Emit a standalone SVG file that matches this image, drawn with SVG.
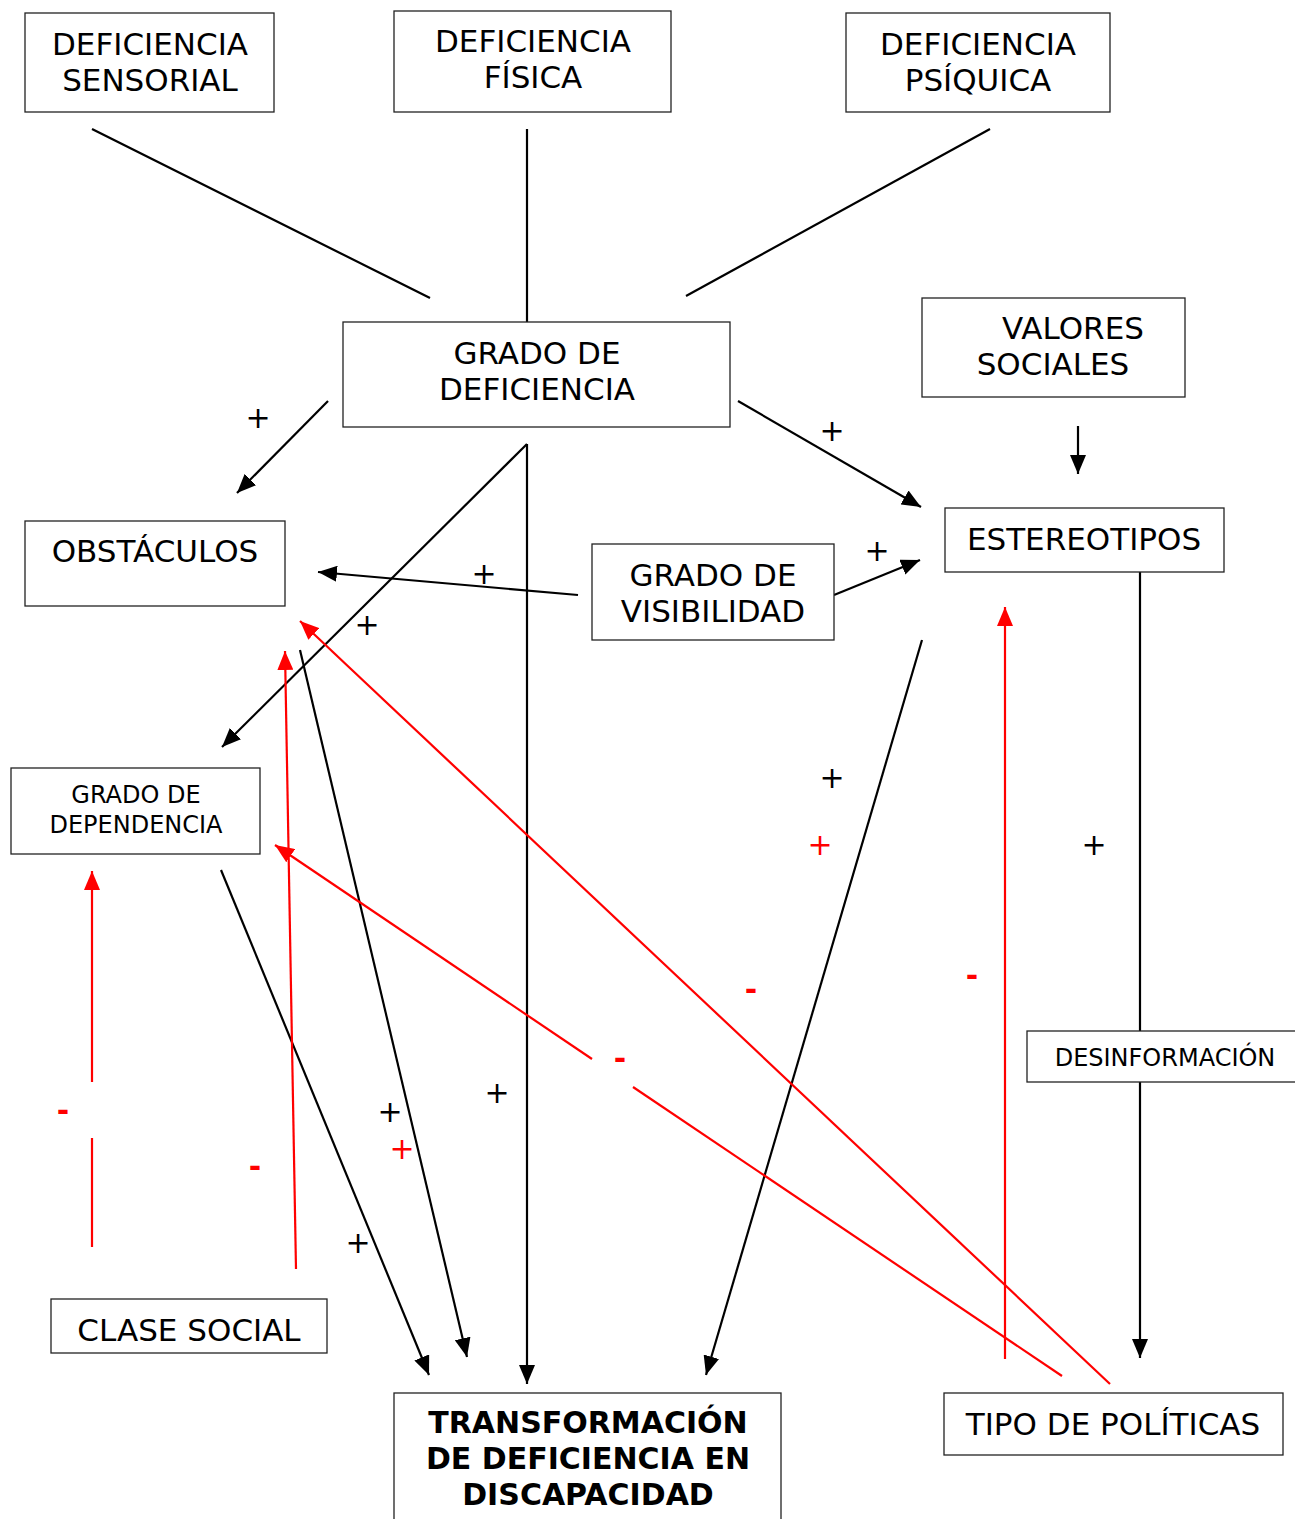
<svg xmlns="http://www.w3.org/2000/svg" width="1295" height="1519" viewBox="0 0 1295 1519">
<style>
.box{fill:#fff;stroke:#222;stroke-width:1.3}
.t{font-family:"DejaVu Sans","Verdana",sans-serif;font-size:31px;fill:#000;text-anchor:middle}
.ts{font-size:24px}
.tb{font-weight:bold;font-size:30px}
.k{stroke:#000;stroke-width:2.2;fill:none}
.r{stroke:#f00;stroke-width:2.2;fill:none}
.sg{font-family:"DejaVu Sans","Verdana",sans-serif;font-size:30px;text-anchor:middle;fill:#000}
.sm{font-family:"DejaVu Sans","Verdana",sans-serif;font-size:30px;font-weight:bold;text-anchor:middle;fill:#f00}
.sr{fill:#f00}
</style>
<defs>
<marker id="ak" markerUnits="userSpaceOnUse" markerWidth="20" markerHeight="16" refX="19" refY="8" orient="auto"><path d="M0,0 L19,8 L0,16 z" fill="#000"/></marker>
<marker id="ar" markerUnits="userSpaceOnUse" markerWidth="20" markerHeight="16" refX="19" refY="8" orient="auto"><path d="M0,0 L19,8 L0,16 z" fill="#f00"/></marker>
</defs>
<rect width="1295" height="1519" fill="#fff"/>
<g id="connectors">
<line class="k" x1="92" y1="129" x2="430" y2="298"/>
<line class="k" x1="527" y1="129" x2="527" y2="322"/>
<line class="k" x1="990" y1="129" x2="686" y2="296"/>
<line class="k" x1="328" y1="401" x2="237" y2="493" marker-end="url(#ak)"/>
<line class="k" x1="738" y1="401" x2="921" y2="507" marker-end="url(#ak)"/>
<line class="k" x1="1078" y1="426" x2="1078" y2="474" marker-end="url(#ak)"/>
<line class="k" x1="578" y1="595" x2="318" y2="572" marker-end="url(#ak)"/>
<line class="k" x1="834" y1="595" x2="920" y2="560" marker-end="url(#ak)"/>
<line class="k" x1="527" y1="444" x2="527" y2="1384" marker-end="url(#ak)"/>
<line class="k" x1="527" y1="444" x2="222" y2="747" marker-end="url(#ak)"/>
<line class="k" x1="221" y1="870" x2="429" y2="1375" marker-end="url(#ak)"/>
<line class="k" x1="300" y1="650" x2="467" y2="1357" marker-end="url(#ak)"/>
<line class="k" x1="922" y1="640" x2="706" y2="1375" marker-end="url(#ak)"/>
<line class="k" x1="1140" y1="572" x2="1140" y2="1358" marker-end="url(#ak)"/>
<line class="r" x1="92" y1="1247" x2="92" y2="1138"/>
<line class="r" x1="92" y1="1082" x2="92" y2="871" marker-end="url(#ar)"/>
<line class="r" x1="296" y1="1269" x2="285" y2="651" marker-end="url(#ar)"/>
<line class="r" x1="1110" y1="1384" x2="300" y2="621" marker-end="url(#ar)"/>
<line class="r" x1="1062" y1="1376" x2="633" y2="1087"/>
<line class="r" x1="592" y1="1059" x2="275" y2="845" marker-end="url(#ar)"/>
<line class="r" x1="1005" y1="1359" x2="1005" y2="607" marker-end="url(#ar)"/>
</g>
<g id="signs">
<text class="sg" x="258" y="428">+</text>
<text class="sg" x="832" y="441">+</text>
<text class="sg" x="877" y="561">+</text>
<text class="sg" x="484" y="584">+</text>
<text class="sg" x="367" y="635">+</text>
<text class="sg" x="832" y="788">+</text>
<text class="sg sr" x="820" y="855">+</text>
<text class="sg" x="1094" y="855">+</text>
<text class="sg" x="497" y="1103">+</text>
<text class="sg" x="390" y="1122">+</text>
<text class="sg sr" x="402" y="1159">+</text>
<text class="sg" x="358" y="1253">+</text>
<text class="sm" x="63" y="1121">-</text>
<text class="sm" x="255" y="1177">-</text>
<text class="sm" x="751" y="1000">-</text>
<text class="sm" x="620" y="1069">-</text>
<text class="sm" x="972" y="986">-</text>
</g>
<g id="n-sensorial"><rect class="box" x="25" y="13" width="249" height="99"/><text class="t" x="150" y="55">DEFICIENCIA</text><text class="t" x="150" y="91">SENSORIAL</text></g>
<g id="n-fisica"><rect class="box" x="394" y="11" width="277" height="101"/><text class="t" x="533" y="52">DEFICIENCIA</text><text class="t" x="533" y="88">FÍSICA</text></g>
<g id="n-psiquica"><rect class="box" x="846" y="13" width="264" height="99"/><text class="t" x="978" y="55">DEFICIENCIA</text><text class="t" x="978" y="91">PSÍQUICA</text></g>
<g id="n-grado-deficiencia"><rect class="box" x="343" y="322" width="387" height="105"/><text class="t" x="537" y="364">GRADO DE</text><text class="t" x="537" y="400">DEFICIENCIA</text></g>
<g id="n-valores"><rect class="box" x="922" y="298" width="263" height="99"/><text class="t" x="1073" y="339">VALORES</text><text class="t" x="1053" y="375">SOCIALES</text></g>
<g id="n-obstaculos"><rect class="box" x="25" y="521" width="260" height="85"/><text class="t" x="155" y="562">OBSTÁCULOS</text></g>
<g id="n-visibilidad"><rect class="box" x="592" y="544" width="242" height="96"/><text class="t" x="713" y="586">GRADO DE</text><text class="t" x="713" y="622">VISIBILIDAD</text></g>
<g id="n-estereotipos"><rect class="box" x="945" y="508" width="279" height="64"/><text class="t" x="1084" y="550">ESTEREOTIPOS</text></g>
<g id="n-dependencia"><rect class="box" x="11" y="768" width="249" height="86"/><text class="t ts" x="136" y="803">GRADO DE</text><text class="t ts" x="136" y="833">DEPENDENCIA</text></g>
<g id="n-desinformacion"><rect class="box" x="1027" y="1031" width="275" height="51"/><text class="t ts" x="1165" y="1066">DESINFORMACIÓN</text></g>
<g id="n-clase"><rect class="box" x="51" y="1299" width="276" height="54"/><text class="t" x="189" y="1341">CLASE SOCIAL</text></g>
<g id="n-transformacion"><rect class="box" x="394" y="1393" width="387" height="140"/><text class="t tb" x="588" y="1433">TRANSFORMACIÓN</text><text class="t tb" x="588" y="1469">DE DEFICIENCIA EN</text><text class="t tb" x="588" y="1505">DISCAPACIDAD</text></g>
<g id="n-politicas"><rect class="box" x="944" y="1393" width="339" height="62"/><text class="t" x="1113" y="1435">TIPO DE POLÍTICAS</text></g>
</svg>
